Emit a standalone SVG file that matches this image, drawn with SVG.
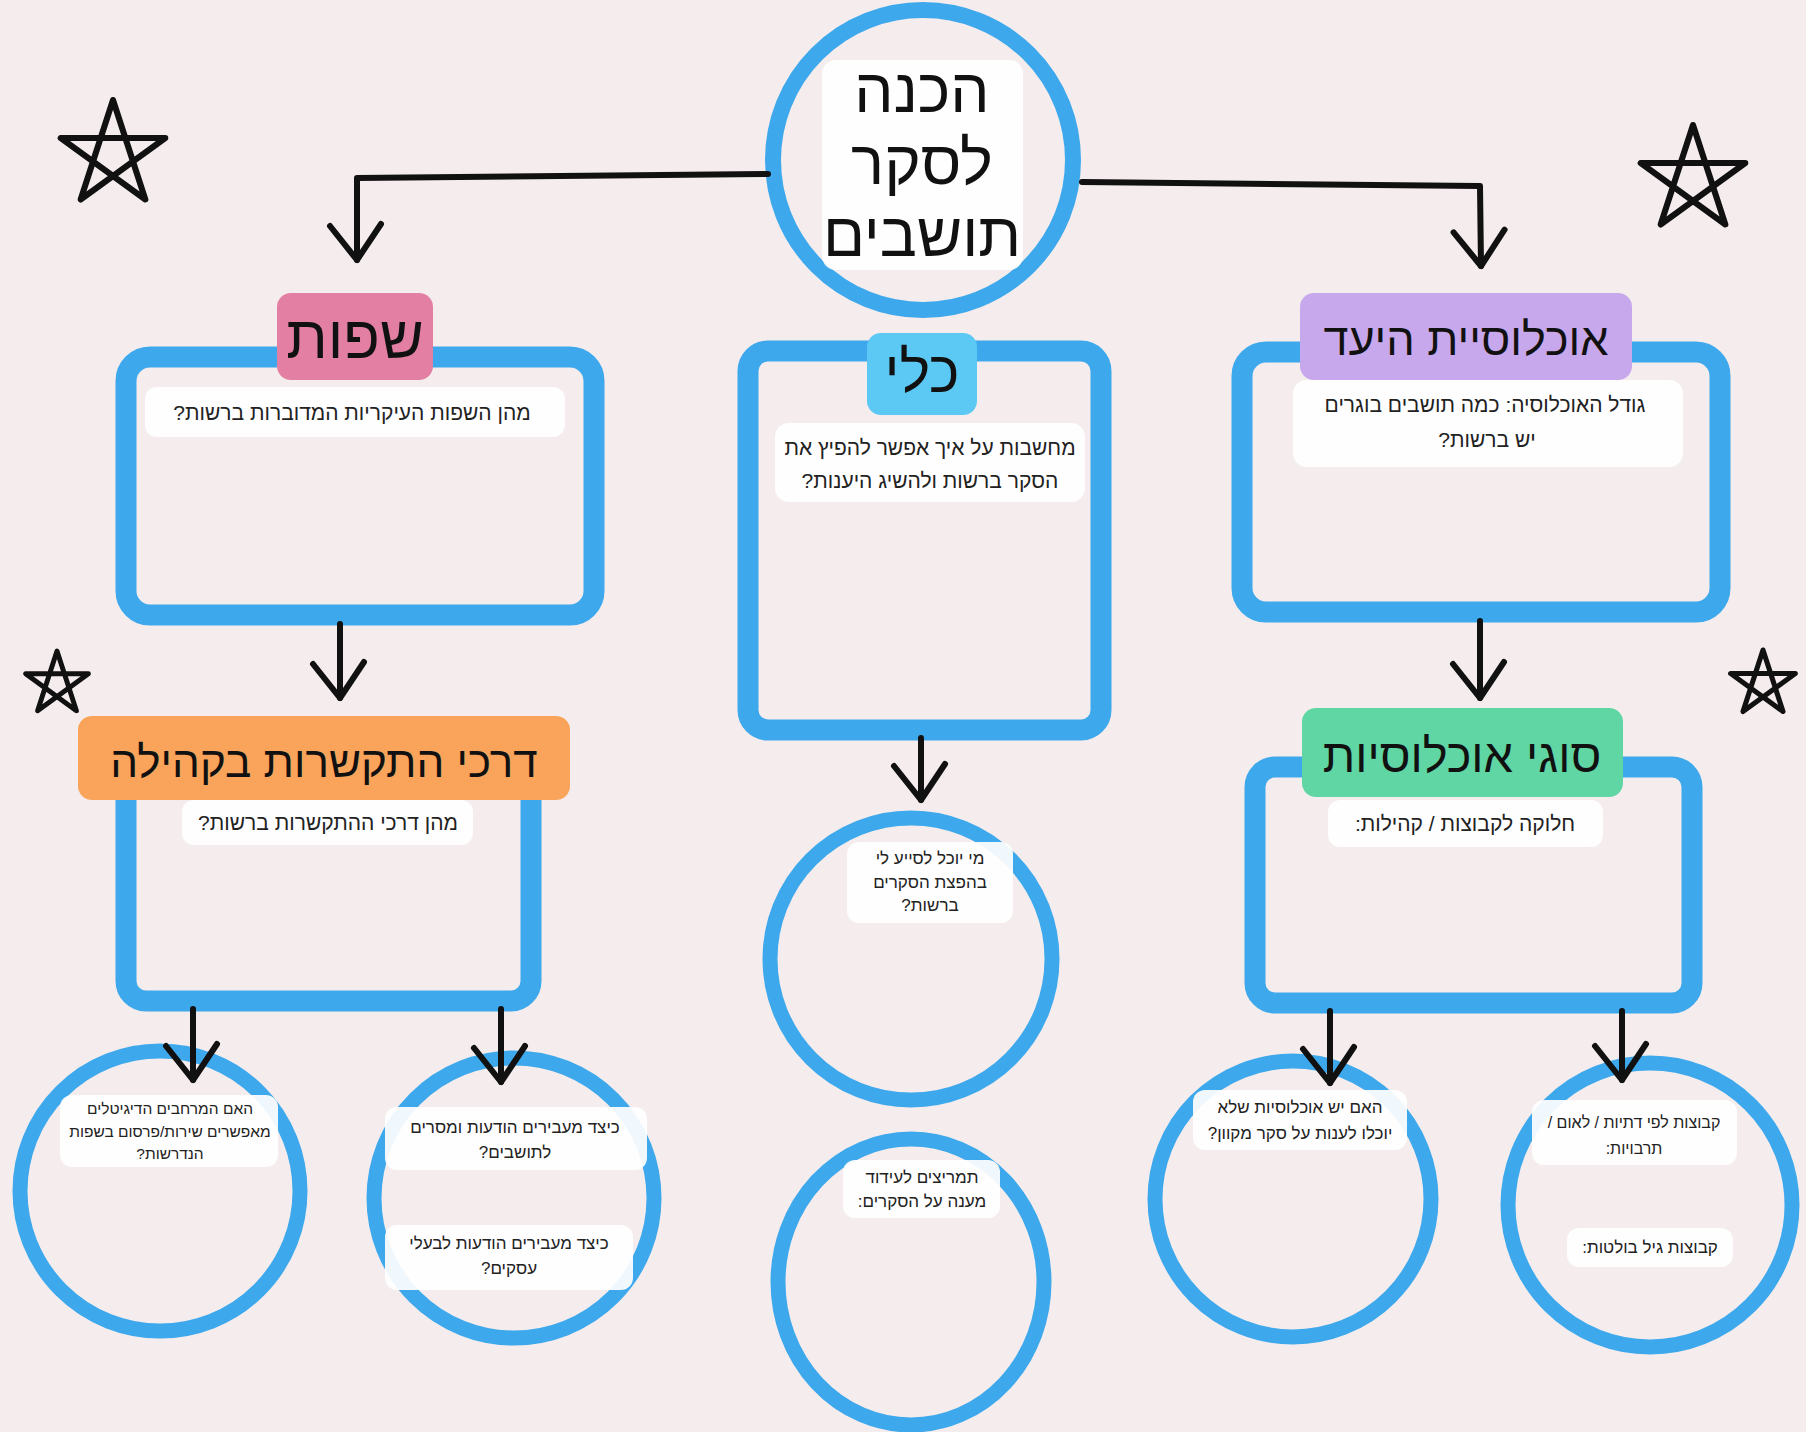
<svg xmlns="http://www.w3.org/2000/svg" width="1806" height="1432" viewBox="0 0 1806 1432">
<style>
.ring{fill:none;stroke:#3ea8ec;stroke-width:15;stroke-linejoin:round}
.box{fill:none;stroke:#3ea8ec;stroke-width:21;stroke-linejoin:round}
.wb{fill:#ffffff;fill-opacity:0.92}
.lbl{font-family:"Liberation Sans","DejaVu Sans",sans-serif;fill:#111;text-anchor:middle;direction:rtl}
.t{font-family:"Liberation Sans","DejaVu Sans",sans-serif;fill:#222;text-anchor:middle;direction:rtl;font-size:21px}
.s{font-size:17px}
.con{fill:none;stroke:#111;stroke-width:6;stroke-linecap:round;stroke-linejoin:round}
.star{fill:none;stroke:#111;stroke-linejoin:round}
</style>
<defs>
<marker id="arr" viewBox="-50 -35 60 70" markerWidth="60" markerHeight="70" refX="0" refY="0" orient="auto" markerUnits="userSpaceOnUse">
<path d="M -36,-24 L 0,0 L -34,27" fill="none" stroke="#111" stroke-width="6" stroke-linecap="round" stroke-linejoin="round"/>
</marker>
<path id="star" d="M0,-1 L0.588,0.809 L-0.951,-0.309 L0.951,-0.309 L-0.588,0.809 Z"/>
</defs>
<rect x="0" y="0" width="1806" height="1432" fill="#f5eded"/>

<g id="stars">
<use href="#star" class="star" transform="translate(113,155) scale(55)" style="stroke-width:0.11"/>
<use href="#star" class="star" transform="translate(1693,180) scale(55)" style="stroke-width:0.11"/>
<use href="#star" class="star" transform="translate(57,684) scale(33)" style="stroke-width:0.15"/>
<use href="#star" class="star" transform="translate(1763,684) scale(34)" style="stroke-width:0.15"/>
</g>

<g id="center">
<ellipse class="ring" cx="923" cy="160" rx="150" ry="150" style="stroke-width:16"/>
<rect class="wb" x="822" y="60" width="201" height="210" rx="14"/>
<text class="lbl" x="922" y="112" font-size="62">הכנה</text>
<text class="lbl" x="922" y="184" font-size="62">לסקר</text>
<text class="lbl" x="922" y="256" font-size="62">תושבים</text>
</g>

<g id="languages">
<rect class="box" x="126" y="357" width="468" height="258" rx="24"/>
<rect x="277" y="293" width="156" height="87" rx="14" fill="#e47fa4"/>
<text class="lbl" x="355" y="358" font-size="60">שפות</text>
<rect class="wb" x="145" y="387" width="420" height="50" rx="12"/>
<text class="t" x="352" y="420">מהן השפות העיקריות המדוברות ברשות?</text>
</g>

<g id="tool">
<rect class="box" x="748" y="351" width="353" height="379" rx="20"/>
<rect x="867" y="333" width="110" height="82" rx="14" fill="#5cc8f4"/>
<text class="lbl" x="922" y="392" font-size="58">כלי</text>
<rect class="wb" x="775" y="423" width="310" height="79" rx="14"/>
<text class="t" x="930" y="455">מחשבות על איך אפשר להפיץ את</text>
<text class="t" x="930" y="488">הסקר ברשות ולהשיג היענות?</text>
</g>

<g id="target">
<rect class="box" x="1242" y="352" width="478" height="260" rx="24"/>
<rect x="1300" y="293" width="332" height="87" rx="14" fill="#c7a8ec"/>
<text class="lbl" x="1466" y="355" font-size="45">אוכלוסיית היעד</text>
<rect class="wb" x="1293" y="380" width="390" height="87" rx="14"/>
<text class="t" x="1485" y="412">גודל האוכלוסיה: כמה תושבים בוגרים</text>
<text class="t" x="1487" y="447">יש ברשות?</text>
</g>

<g id="community">
<rect class="box" x="126" y="760" width="405" height="241" rx="20"/>
<rect x="78" y="716" width="492" height="84" rx="14" fill="#f9a45a"/>
<text class="lbl" x="324" y="777" font-size="44">דרכי התקשרות בקהילה</text>
<rect class="wb" x="182" y="800" width="291" height="45" rx="12"/>
<text class="t" x="328" y="830">מהן דרכי ההתקשרות ברשות?</text>
</g>

<g id="types">
<rect class="box" x="1255" y="767" width="437" height="236" rx="20"/>
<rect x="1302" y="708" width="321" height="89" rx="14" fill="#5fd6a4"/>
<text class="lbl" x="1462" y="772" font-size="47">סוגי אוכלוסיות</text>
<rect class="wb" x="1328" y="800" width="275" height="47" rx="12"/>
<text class="t" x="1465" y="831">חלוקה לקבוצות / קהילות:</text>
</g>

<g id="helpers">
<ellipse class="ring" cx="911" cy="959" rx="141" ry="141"/>
<rect class="wb" x="847" y="842" width="166" height="81" rx="12"/>
<text class="t s" x="930" y="864">מי יוכל לסייע לי</text>
<text class="t s" x="930" y="888">בהפצת הסקרים</text>
<text class="t s" x="930" y="911">ברשות?</text>
</g>

<g id="incentives">
<ellipse class="ring" cx="911" cy="1282" rx="133" ry="143"/>
<rect class="wb" x="843" y="1160" width="157" height="58" rx="12"/>
<text class="t s" x="922" y="1183">תמריצים לעידוד</text>
<text class="t s" x="922" y="1207">מענה על הסקרים:</text>
</g>

<g id="digital">
<ellipse class="ring" cx="160" cy="1191" rx="140" ry="140"/>
<rect class="wb" x="60" y="1095" width="218" height="72" rx="12"/>
<text class="t" x="170" y="1114" style="font-size:15.5px">האם המרחבים הדיגיטלים</text>
<text class="t" x="170" y="1137" style="font-size:15.5px">מאפשרים שירות/פרסום בשפות</text>
<text class="t" x="170" y="1159" style="font-size:15.5px">הנדרשות?</text>
</g>

<g id="messages">
<ellipse class="ring" cx="514" cy="1198" rx="140" ry="140"/>
<rect class="wb" x="385" y="1107" width="262" height="63" rx="12"/>
<text class="t s" x="515" y="1133">כיצד מעבירים הודעות ומסרים</text>
<text class="t s" x="515" y="1158">לתושבים?</text>
<rect class="wb" x="385" y="1225" width="248" height="65" rx="12"/>
<text class="t s" x="509" y="1249">כיצד מעבירים הודעות לבעלי</text>
<text class="t s" x="509" y="1274">עסקים?</text>
</g>

<g id="online">
<ellipse class="ring" cx="1293" cy="1199" rx="138" ry="138"/>
<rect class="wb" x="1193" y="1090" width="214" height="60" rx="12"/>
<text class="t s" x="1300" y="1113">האם יש אוכלוסיות שלא</text>
<text class="t s" x="1300" y="1139">יוכלו לענות על סקר מקוון?</text>
</g>

<g id="groups">
<ellipse class="ring" cx="1650" cy="1205" rx="142" ry="142"/>
<rect class="wb" x="1532" y="1100" width="205" height="65" rx="12"/>
<text class="t" x="1634" y="1128" style="font-size:16px">קבוצות לפי דתיות / לאום /</text>
<text class="t" x="1634" y="1154" style="font-size:16px">תרבויות:</text>
<rect class="wb" x="1567" y="1228" width="166" height="39" rx="12"/>
<text class="t s" x="1650" y="1253">קבוצות גיל בולטות:</text>
</g>

<g id="connectors">
<path class="con" d="M 768,174 L 357,178 L 357,260" marker-end="url(#arr)"/>
<path class="con" d="M 1082,182 L 1480,186 L 1481,266" marker-end="url(#arr)"/>
<path class="con" d="M 340,624 L 340,698" marker-end="url(#arr)"/>
<path class="con" d="M 1480,621 L 1480,698" marker-end="url(#arr)"/>
<path class="con" d="M 921,738 L 921,800" marker-end="url(#arr)"/>
<path class="con" d="M 193,1009 L 193,1080" marker-end="url(#arr)"/>
<path class="con" d="M 501,1009 L 501,1082" marker-end="url(#arr)"/>
<path class="con" d="M 1330,1011 L 1330,1083" marker-end="url(#arr)"/>
<path class="con" d="M 1622,1011 L 1622,1080" marker-end="url(#arr)"/>
</g>
</svg>
